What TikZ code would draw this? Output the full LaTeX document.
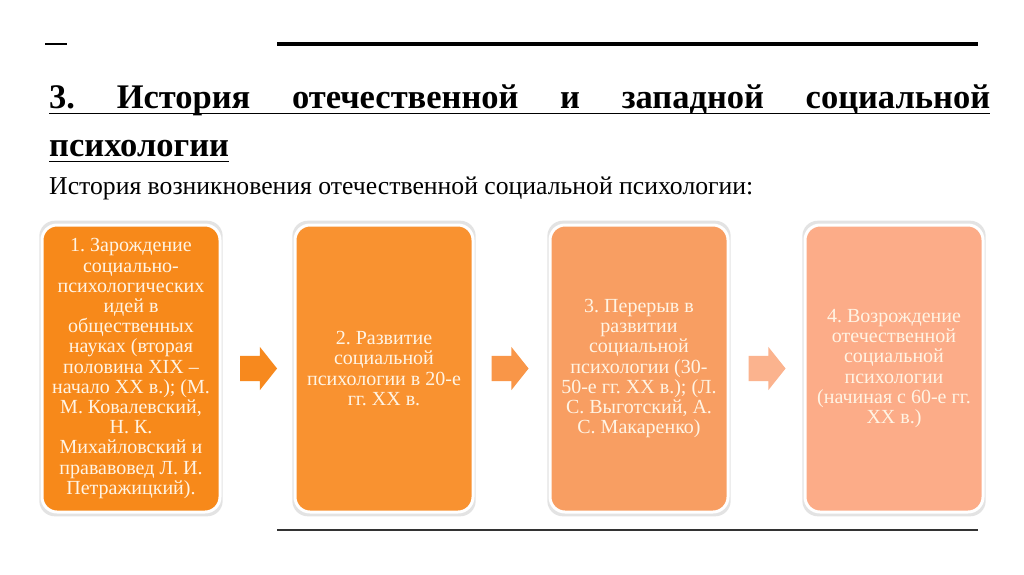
\documentclass[tikz,border=0pt]{standalone}
\usepackage{fontspec}
\setmainfont{Liberation Serif}
\usetikzlibrary{shapes.arrows,shadows}
\definecolor{cA}{HTML}{F7891A}
\definecolor{cB}{HTML}{F99230}
\definecolor{cC}{HTML}{F89E62}
\definecolor{cD}{HTML}{FCAC88}
\definecolor{aA}{HTML}{F7891E}
\definecolor{aB}{HTML}{F99648}
\definecolor{aC}{HTML}{FBB38E}
\definecolor{txt}{HTML}{FFF4E4}
\definecolor{rule}{HTML}{333333}
\tikzset{
  stagebox/.style={rectangle, rounded corners=15pt, draw=white, line width=3pt,
    minimum width=178pt, minimum height=287pt, align=center,
    inner sep=0pt, text=txt, font=\fontsize{20}{20.2}\selectfont,
    drop shadow={shadow xshift=0pt, shadow yshift=0pt, shadow scale=1.03, opacity=0.22, fill=gray}},
  flowarrow/.style={single arrow, minimum height=37pt, inner sep=0pt,
    single arrow head extend=9pt, single arrow head indent=0pt,
    single arrow tip angle=103, shape border rotate=0},
}
\begin{document}
\frenchspacing
\begin{tikzpicture}[x=1pt,y=-1pt]
\useasboundingbox[fill=white] (0,0) rectangle (1024,574);
% top rules
\coordinate (d1) at (45,44); \coordinate (d2) at (67,44);
\draw[line width=2pt] (d1) -- (d2);
\coordinate (t1) at (277,44); \coordinate (t2) at (978,44);
\draw[line width=4pt] (t1) -- (t2);
% title
\node[anchor=base west, inner sep=0pt, font=\fontsize{34.5}{38}\selectfont\bfseries] (title1) at (49,108)
  {\hbox to 941pt{3.\hfill История\hfill отечественной\hfill и\hfill западной\hfill социальной}};
\coordinate (u1a) at (49,113.5); \coordinate (u1b) at (990,113.5);
\draw[line width=1.5pt] (u1a) -- (u1b);
\node[anchor=base west, inner sep=0pt, font=\fontsize{34.5}{38}\selectfont\bfseries] (title2) at (49,156) {психологии};
\coordinate (u2a) at (49,161.5); \coordinate (u2b) at (229,161.5);
\draw[line width=1.5pt] (u2a) -- (u2b);
\node[anchor=base west, inner sep=0pt, font=\fontsize{25.7}{28}\selectfont] (sub) at (49,194)
  {История возникновения отечественной социальной психологии:};
% boxes
\node[stagebox, fill=cA] (b1) at (131,368.5) {1. Зарождение\\ социально-\\ психологических\\ идей в\\ общественных\\ науках (вторая\\ половина XIX –\\ начало XX в.); (М.\\ М. Ковалевский,\\ Н. К.\\ Михайловский и\\ прававовед Л. И.\\ Петражицкий).};
\node[stagebox, fill=cB] (b2) at (384,368.5) {2. Развитие\\ социальной\\ психологии в 20-е\\ гг. XX в.};
\node[stagebox, fill=cC] (b3) at (639,368.5) {3. Перерыв в\\ развитии\\ социальной\\ психологии (30-\\ 50-е гг. XX в.); (Л.\\ С. Выготский, А.\\ С. Макаренко)};
\node[stagebox, fill=cD] (b4) at (894,368.5) {4. Возрождение\\ отечественной\\ социальной\\ психологии\\ (начиная с 60-е гг.\\ XX в.)};
% arrows
\node[flowarrow, fill=aA] (a1) at (253.5,368.5) {\rule{0pt}{25pt}};
\node[flowarrow, fill=aB] (a2) at (505,368.5) {\rule{0pt}{25pt}};
\node[flowarrow, fill=aC] (a3) at (762,368.5) {\rule{0pt}{25pt}};
% bottom rule
\coordinate (bl1) at (277,530); \coordinate (bl2) at (978,530);
\draw[line width=1.5pt, rule] (bl1) -- (bl2);
\end{tikzpicture}
\end{document}
